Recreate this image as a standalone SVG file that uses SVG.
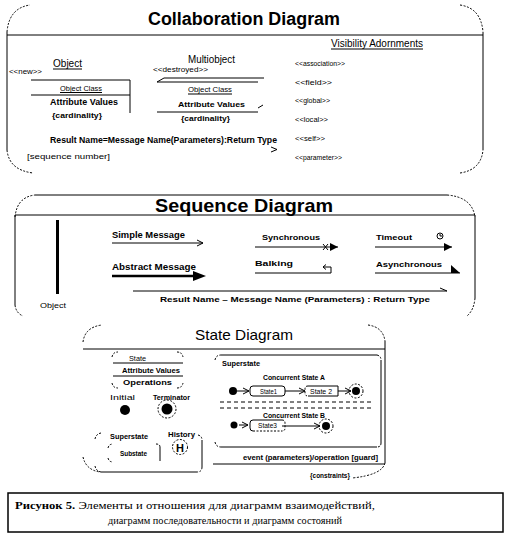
<svg xmlns="http://www.w3.org/2000/svg" width="511" height="534" viewBox="0 0 511 534">
<style>
.ln{stroke:#000;stroke-width:1;fill:none}
.th{stroke:#000;stroke-width:2.5;fill:none}
.arc{stroke:#000;stroke-width:1;fill:none;stroke-dasharray:2 1.5}
.dash{stroke:#000;stroke-width:1;fill:none;stroke-dasharray:4 3}
.fill{fill:#000;stroke:none}
text{font-family:"Liberation Sans",Arial,sans-serif;fill:#000}
.t18{font-size:18px;font-weight:bold}
.t15{font-size:15px}
.r10{font-size:10px}
.r8{font-size:8px}
.r7{font-size:7px}
.b9{font-size:9.5px;font-weight:bold}
.b8{font-size:8px;font-weight:bold}
.b7{font-size:7.5px;font-weight:bold}
.cap{font-family:"Liberation Serif","Times New Roman",serif;font-size:11px}
</style>
<defs>
<marker id="stick" markerWidth="8" markerHeight="8" refX="7" refY="4" orient="auto" markerUnits="userSpaceOnUse">
<path d="M1,1 L7,4 L1,7" fill="none" stroke="#000" stroke-width="1"/>
</marker>
<marker id="solid" markerWidth="9" markerHeight="8" refX="8" refY="4" orient="auto" markerUnits="userSpaceOnUse">
<path d="M0,0 L8,4 L0,8 Z" fill="#000"/>
</marker>
</defs>

<g id="collaboration-panel">
<path class="arc" d="M7,32 Q9,8 30,5"/>
<path class="arc" d="M460,5 Q481,8 483,32"/>
<path class="ln" d="M7,35 H483 M7,32 V150 M483,32 V150"/>
<path class="arc" d="M7,150 Q9,170 33,173"/>
<path class="arc" d="M460,173 Q481,170 483,150"/>
<text class="t18" x="148" y="25" textLength="192" lengthAdjust="spacingAndGlyphs">Collaboration Diagram</text>
</g>

<g id="visibility-adornments">
<text class="r10" x="331" y="47" textLength="92" lengthAdjust="spacingAndGlyphs">Visibility Adornments</text>
<path class="ln" d="M331,49 H423"/>
<text class="r7" x="295" y="66" textLength="50" lengthAdjust="spacingAndGlyphs">&lt;&lt;association&gt;&gt;</text>
<text class="r7" x="295" y="85" textLength="37" lengthAdjust="spacingAndGlyphs">&lt;&lt;field&gt;&gt;</text>
<text class="r7" x="295" y="103" textLength="35" lengthAdjust="spacingAndGlyphs">&lt;&lt;global&gt;&gt;</text>
<text class="r7" x="295" y="122" textLength="33" lengthAdjust="spacingAndGlyphs">&lt;&lt;local&gt;&gt;</text>
<text class="r7" x="295" y="141" textLength="30" lengthAdjust="spacingAndGlyphs">&lt;&lt;self&gt;&gt;</text>
<text class="r7" x="295" y="160" textLength="47" lengthAdjust="spacingAndGlyphs">&lt;&lt;parameter&gt;&gt;</text>
</g>

<g id="object">
<text class="r10" x="53" y="67" textLength="29" lengthAdjust="spacingAndGlyphs">Object</text>
<path class="ln" d="M53,69 H82"/>
<text class="r7" x="9" y="74" textLength="33" lengthAdjust="spacingAndGlyphs">&lt;&lt;new&gt;&gt;</text>
<path class="ln" d="M31,80 H130 M130,80 V113 M31,95 H130"/>
<text class="r8" x="60" y="91" textLength="42" lengthAdjust="spacingAndGlyphs">Object Class</text>
<path class="ln" d="M60,92.5 H102"/>
<text class="b9" x="50" y="105" textLength="68" lengthAdjust="spacingAndGlyphs">Attribute Values</text>
<text class="b8" x="52" y="118" textLength="50" lengthAdjust="spacingAndGlyphs">{cardinality}</text>
</g>

<g id="multiobject">
<text class="r10" x="188" y="63" textLength="47" lengthAdjust="spacingAndGlyphs">Multiobject</text>
<text class="r7" x="153" y="72" textLength="55" lengthAdjust="spacingAndGlyphs">&lt;&lt;destroyed&gt;&gt;</text>
<path class="ln" d="M164,78 H264 M157,82 H258 M164,78 L157,82"/>
<text class="r8" x="188" y="92" textLength="44" lengthAdjust="spacingAndGlyphs">Object Class</text>
<path class="ln" d="M188,94 H232"/>
<text class="b8" x="178" y="107" textLength="67" lengthAdjust="spacingAndGlyphs">Attribute Values</text>
<path class="ln" d="M258,108 L263,105"/>
<path class="ln" d="M157,112 H258"/>
<text class="b8" x="181" y="121" textLength="49" lengthAdjust="spacingAndGlyphs">{cardinality}</text>
</g>

<g id="collab-message">
<text class="b9" x="50" y="143" textLength="227" lengthAdjust="spacingAndGlyphs">Result Name=Message Name(Parameters):Return Type</text>
<path class="ln" d="M271,147 L277,149.5 L271,152"/>
<text class="r8" x="27" y="159" textLength="83" lengthAdjust="spacingAndGlyphs">[sequence number]</text>
</g>

<g id="sequence-panel">
<path class="arc" d="M15,217 Q17,197 35,195"/>
<path class="ln" d="M35,195 H447"/>
<path class="arc" d="M447,195 Q472,197 475,217"/>
<path class="ln" d="M15,215 H475 M15,215 V305 M475,215 V298"/>
<path class="arc" d="M15,305 Q16,313 23,316"/>
<path class="arc" d="M475,298 Q474,310 467,316"/>
<text class="t18" x="155" y="212" textLength="178" lengthAdjust="spacingAndGlyphs" style="font-size:19px">Sequence Diagram</text>
</g>

<g id="lifeline">
<rect class="fill" x="56" y="220" width="3" height="74"/>
<text class="r8" x="40" y="308" textLength="26" lengthAdjust="spacingAndGlyphs">Object</text>
</g>

<g id="connectors">
<path class="ln" d="M112,243 H203" marker-end="url(#stick)"/>
<path class="th" d="M112,276 H196"/>
<path class="fill" d="M193,271 L206,276 L193,281 Z"/>
<path class="ln" d="M255,247 H338" marker-end="url(#solid)"/>
<path class="ln" d="M323,244 L328,250 M328,244 L323,250"/>
<path class="ln" d="M375,247 H452" marker-end="url(#solid)"/>
<circle class="ln" cx="440" cy="236" r="3"/>
<path class="ln" d="M440,234 V236 H442"/>
<path class="ln" d="M255,273 H331 V267 H323 M326,264.5 L323,267 L326,269.5"/>
<path class="ln" d="M375,273 H460"/>
<path class="fill" d="M451,265 L460,273 L451,273 Z"/>
<path class="ln" d="M133,291 H447 M440,288 L447,291"/>
<path class="ln" d="M237,391 H249" marker-end="url(#stick)"/>
<path class="ln" d="M285,391 H305" marker-end="url(#stick)"/>
<path class="ln" d="M338,386 V396 M338,391 H351" marker-end="url(#stick)"/>
<path class="ln" d="M239,425 H248" marker-end="url(#stick)"/>
<path class="ln" d="M282,426 H320" marker-end="url(#stick)"/>
</g>

<g id="sequence-labels">
<text class="b9" x="112" y="238" textLength="73" lengthAdjust="spacingAndGlyphs">Simple Message</text>
<text class="b9" x="112" y="270" textLength="84" lengthAdjust="spacingAndGlyphs">Abstract Message</text>
<text class="b8" x="262" y="240" textLength="58" lengthAdjust="spacingAndGlyphs">Synchronous</text>
<text class="b8" x="376" y="240" textLength="36" lengthAdjust="spacingAndGlyphs">Timeout</text>
<text class="b8" x="255" y="266" textLength="38" lengthAdjust="spacingAndGlyphs">Balking</text>
<text class="b8" x="376" y="267" textLength="66" lengthAdjust="spacingAndGlyphs">Asynchronous</text>
<text class="b8" x="160" y="302" textLength="270" lengthAdjust="spacingAndGlyphs">Result Name  –  Message Name (Parameters)  :  Return Type</text>
</g>

<g id="state-panel">
<path class="arc" d="M83,342 Q85,327 102,325"/>
<path class="arc" d="M368,325 Q383,327 385,341"/>
<path class="ln" d="M83,349 H385 M385,341 V463"/>
<path class="arc" d="M385,463 Q382,475 352,478"/>
<path class="arc" d="M83,457 Q86,470 100,472"/>
<text class="t15" x="195" y="340" textLength="98" lengthAdjust="spacingAndGlyphs">State Diagram</text>
</g>

<g id="state-element">
<path class="arc" d="M112,357 Q113,352 118,352 M177,352 Q182,352 183,357 M112,383 Q113,388 118,388 M177,388 Q182,388 183,383"/>
<path class="ln" d="M113,363 H183 M113,376 H183"/>
<text class="r8" x="129" y="361" textLength="17" lengthAdjust="spacingAndGlyphs">State</text>
<text class="b7" x="122" y="373" textLength="58" lengthAdjust="spacingAndGlyphs">Attribute Values</text>
<text class="b7" x="123" y="385" textLength="49" lengthAdjust="spacingAndGlyphs">Operations</text>
</g>

<g id="initial">
<text class="r8" x="110" y="400" textLength="25" lengthAdjust="spacingAndGlyphs">Initial</text>
<circle class="fill" cx="125" cy="410" r="5"/>
</g>

<g id="terminator">
<text class="b7" x="153" y="400" textLength="37" lengthAdjust="spacingAndGlyphs">Terminator</text>
<circle class="fill" cx="167" cy="409" r="5.5"/>
<circle class="arc" cx="167" cy="409" r="9"/>
</g>

<g id="superstate-element">
<path class="arc" d="M95,439 Q96,434 101,433 M198,435 Q202,436 202,440 M95,466 Q96,471 101,472 M202,467 Q202,472 197,472"/>
<path class="ln" d="M202,440 V467 M101,472 H197"/>
<text class="b7" x="110" y="439" textLength="38" lengthAdjust="spacingAndGlyphs">Superstate</text>
<text class="b7" x="168" y="437" textLength="27" lengthAdjust="spacingAndGlyphs">History</text>
<path class="arc" d="M108,448 Q109,444 113,444 M108,458 Q109,462 113,462 M156,444 Q160,444 160,447"/>
<path class="ln" d="M160,447 V461"/>
<text class="b7" x="120" y="456" textLength="27" lengthAdjust="spacingAndGlyphs">Substate</text>
<circle class="arc" cx="180" cy="447" r="7.5"/>
<text x="180" y="451.5" text-anchor="middle" style="font-size:11px;font-weight:bold">H</text>
</g>

<g id="superstate-box">
<path class="arc" d="M215,360 Q216,355 221,355 M377,355 Q381,356 381,360 M215,442 Q216,447 221,447 M381,443 Q381,447 377,447"/>
<path class="ln" d="M221,355 H377 M381,360 V443 M221,447 H377"/>
<text class="b8" x="222" y="366" textLength="38" lengthAdjust="spacingAndGlyphs">Superstate</text>
<text class="b8" x="263" y="380" textLength="62" lengthAdjust="spacingAndGlyphs">Concurrent State A</text>
<path class="dash" d="M220,402 H372 M220,408 H372"/>
<text class="b8" x="263" y="418" textLength="62" lengthAdjust="spacingAndGlyphs">Concurrent State B</text>
</g>

<g id="initial-a"><circle class="fill" cx="233" cy="391" r="4"/></g>
<g id="state1">
<rect class="ln" x="250" y="386" width="35" height="10" rx="3"/>
<text class="r7" x="260" y="394" textLength="17" lengthAdjust="spacingAndGlyphs">State1</text>
</g>
<g id="state2">
<path class="arc" d="M308,386 Q305,386 305,389 V393 Q305,396 308,396"/>
<path class="ln" d="M308,386 H338 M308,396 H338"/>
<text class="r7" x="310" y="394" textLength="22" lengthAdjust="spacingAndGlyphs">State 2</text>
</g>
<g id="final-a">
<circle class="fill" cx="356" cy="391" r="4"/>
<circle class="arc" cx="356" cy="391" r="7"/>
</g>
<g id="initial-b"><circle class="fill" cx="234" cy="425" r="3.5"/></g>
<g id="state3">
<path class="ln" d="M253,420 Q250,420 250,423 V428 Q250,431 253,431 M253,420 H282"/>
<path class="arc" d="M282,420 Q285,420 285,423 V428 Q285,431 282,431 M253,431 H282"/>
<text class="r7" x="258" y="428" textLength="19" lengthAdjust="spacingAndGlyphs">State3</text>
</g>
<g id="final-b">
<circle class="fill" cx="326" cy="426" r="4"/>
<circle class="arc" cx="326" cy="426" r="7"/>
</g>

<g id="transition-label">
<text class="b8" x="243" y="460" textLength="135" lengthAdjust="spacingAndGlyphs">event (parameters)/operation [guard]</text>
<path class="ln" d="M213,464 H385"/>
<text class="b7" x="310" y="478" textLength="40" lengthAdjust="spacingAndGlyphs">{constraints}</text>
</g>

<g id="caption">
<rect x="8" y="493" width="495" height="39" fill="none" stroke="#000" stroke-width="1.5"/>
<text class="cap" x="15" y="509" textLength="360" lengthAdjust="spacingAndGlyphs"><tspan font-weight="bold">Рисунок 5.</tspan> Элементы и отношения для диаграмм взаимодействий,</text>
<text class="cap" x="108" y="524" textLength="234" lengthAdjust="spacingAndGlyphs">диаграмм последовательности и диаграмм состояний</text>
</g>
</svg>
